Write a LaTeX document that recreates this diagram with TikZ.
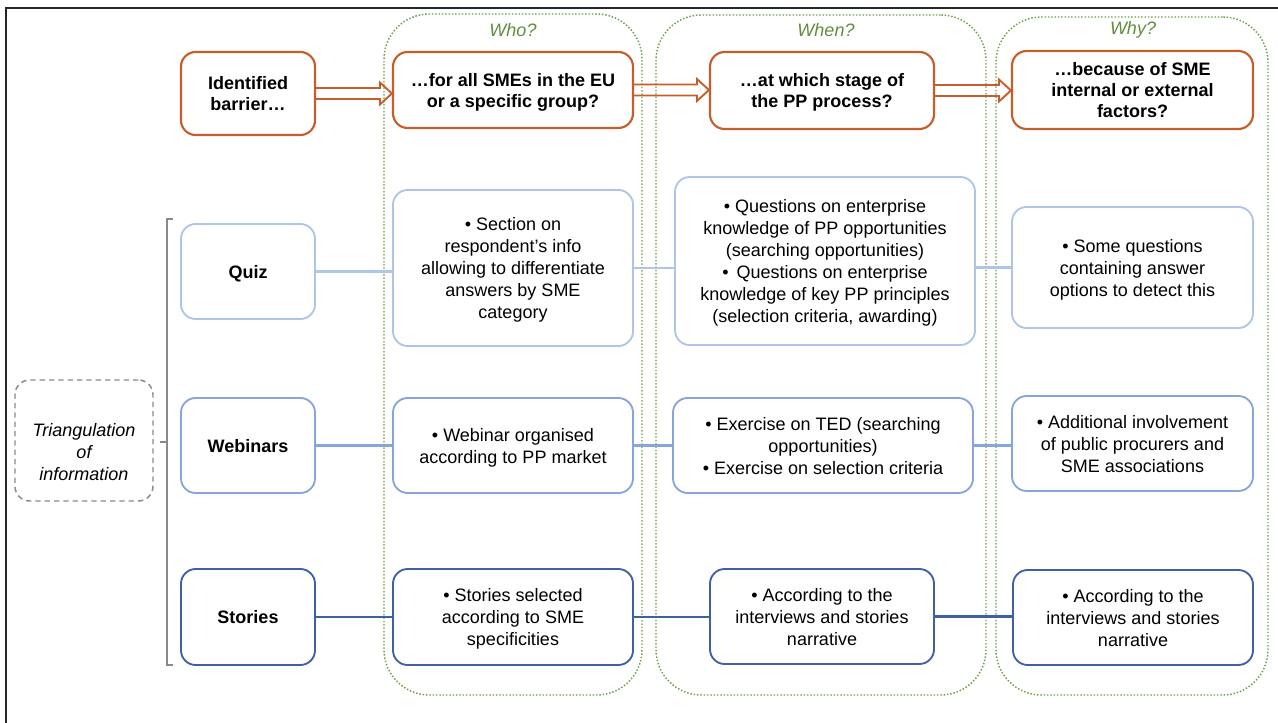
\documentclass[tikz,border=0pt]{standalone}
\usepackage{fontspec}
\setmainfont{Liberation Sans}
\usetikzlibrary{calc}

\definecolor{barrierorange}{HTML}{C65D2A}
\definecolor{quizblue}{HTML}{AEC5E8}
\definecolor{webblue}{HTML}{86A6DA}
\definecolor{storyblue}{HTML}{3D61A3}
\definecolor{columngreen}{HTML}{6E9E48}
\definecolor{labelgreen}{HTML}{5F8E3B}
\definecolor{bracketgray}{HTML}{8A8A8A}

\tikzset{
  boxsize/.style 2 args={minimum width=#1*0.75pt, minimum height=#2*0.75pt},
  basebox/.style={rounded corners=11pt, line width=1.4pt, inner sep=0pt, align=center,
    text depth=0pt, font=\fontsize{13.5}{16.5}\selectfont},
  barrierbox/.style={basebox, draw=barrierorange, line width=1.6pt,
    font=\bfseries\fontsize{13.5}{15.75}\selectfont},
  quizbox/.style={basebox, draw=quizblue},
  webbox/.style={basebox, draw=webblue},
  storybox/.style={basebox, draw=storyblue},
  toolbox/.style={font=\bfseries\fontsize{13.5}{16.5}\selectfont},
  column/.style={draw=columngreen, line width=1.1pt, dash pattern=on 1.1pt off 1.4pt,
    rounded corners=34pt, inner sep=0pt},
  headlabel/.style={text=labelgreen, font=\itshape\fontsize{13.5}{16.5}\selectfont},
  tribox/.style={draw=bracketgray, line width=1.1pt, dash pattern=on 4pt off 3pt,
    rounded corners=11pt, inner sep=0pt},
  trilabel/.style={align=center, inner sep=0pt, yshift=-9pt,
    font=\itshape\fontsize{13.5}{16.5}\selectfont},
  bracket/.style={draw=bracketgray, line width=1.1pt},
  quizlink/.style={draw=quizblue, line width=1.6pt},
  weblink/.style={draw=webblue, line width=1.6pt},
  storylink/.style={draw=storyblue, line width=1.6pt},
  hollowarrow/.style={draw=barrierorange, line width=1.4pt, line join=miter,
    to path={
      ($(\tikztostart.east)+(0,-5.5)$) -- ($(\tikztotarget.west |- \tikztostart.east)+(-12,-5.5)$)
      -- ++(0,-5.5) -- (\tikztotarget.west |- \tikztostart.east)
      -- ++(-12,11) -- ++(0,-5.5) -- ($(\tikztostart.east)+(0,5.5)$)
    }}
}

\begin{document}
\begin{tikzpicture}[x=0.75pt, y=-0.75pt]
    \useasboundingbox (0,0) rectangle (1278,723);
    \draw[line width=1.2pt, black!85] (1278,8) -- (6,8) -- (6,723);

    % Columns
    \node[column, boxsize={258}{681}] (who) at (513,354.5) {};
    \node[column, boxsize={330}{680}] (when) at (821,355) {};
    \node[column, boxsize={272}{678}] (why) at (1132,356) {};
    \node[headlabel] (wholabel) at (513,30) {Who?};
    \node[headlabel] (whenlabel) at (826,30) {When?};
    \node[headlabel] (whylabel) at (1133,30) {Why?};

    % Questions
    \node[barrierbox, boxsize={134}{83}] (barrier) at (248,93.5) {Identified\\barrier…};
    \node[barrierbox, boxsize={240}{76}] (whotop) at (513,90) {…for all SMEs in the EU\\or a specific group?};
    \node[barrierbox, boxsize={224}{77}] (whentop) at (822,90.5) {…at which stage of\\the PP process?};
    \node[barrierbox, boxsize={241}{78}] (whytop) at (1132.5,90) {…because of SME\\internal or external\\factors?};

    \draw[hollowarrow] (barrier) to (whotop);
    \draw[hollowarrow] (whotop) to (whentop);
    \draw[hollowarrow] (whentop) to (whytop);

    % Triangulation
    \node[tribox, boxsize={138}{121}, label={[trilabel]center:Triangulation\\of\\information}] (tri) at (84,440.5) {};
    \draw[bracket] (173,219) -- (167,219) -- (167,665) -- (173,665);
    \draw[bracket] (160,442) -- (167,442);

    % Quiz row
    \node[quizbox, toolbox, boxsize={134}{95}] (quiz) at (248,271.5) {Quiz};
    \node[quizbox, boxsize={240}{156}] (whoquiz) at (513,268)
        {• Section on\\respondent’s info\\allowing to differentiate\\answers by SME\\category};
    \node[quizbox, boxsize={300}{168}] (whenquiz) at (825,261)
        {• Questions on enterprise\\knowledge of PP opportunities\\(searching opportunities)\\•\, Questions on enterprise\\knowledge of key PP principles\\(selection criteria, awarding)};
    \node[quizbox, boxsize={241}{121}] (whyquiz) at (1132.5,267.5)
        {• Some questions\\containing answer\\options to detect this};
    \draw[quizlink] (quiz) -- (quiz -| whoquiz.west);
    \draw[quizlink] (whoquiz) -- (whoquiz -| whenquiz.west);
    \draw[quizlink] (whenquiz.east |- whyquiz) -- (whyquiz);

    % Webinars row
    \node[webbox, toolbox, boxsize={134}{95}] (webinars) at (248,445.5) {Webinars};
    \node[webbox, boxsize={240}{95}] (whoweb) at (513,445.5)
        {• Webinar organised\\according to PP market};
    \node[webbox, boxsize={300}{95}] (whenweb) at (823,445.5)
        {• Exercise on TED (searching\\opportunities)\\• Exercise on selection criteria};
    \node[webbox, boxsize={241}{95}] (whyweb) at (1132.5,443.5)
        {• Additional involvement\\of public procurers and\\SME associations};
    \draw[weblink] (webinars) -- (webinars -| whoweb.west);
    \draw[weblink] (whoweb) -- (whoweb -| whenweb.west);
    \draw[weblink] (whenweb) -- (whenweb -| whyweb.west);

    % Stories row
    \node[storybox, toolbox, boxsize={134}{96}] (stories) at (248,617) {Stories};
    \node[storybox, boxsize={240}{96}] (whostory) at (513,617)
        {• Stories selected\\according to SME\\specificities};
    \node[storybox, boxsize={224}{95}] (whenstory) at (822,616.5)
        {• According to the\\interviews and stories\\narrative};
    \node[storybox, boxsize={240}{95}] (whystory) at (1133,617.5)
        {• According to the\\interviews and stories\\narrative};
    \draw[storylink] (stories) -- (stories -| whostory.west);
    \draw[storylink] (whostory) -- (whostory -| whenstory.west);
    \draw[storylink] (whenstory) -- (whenstory -| whystory.west);
\end{tikzpicture}
\end{document}
